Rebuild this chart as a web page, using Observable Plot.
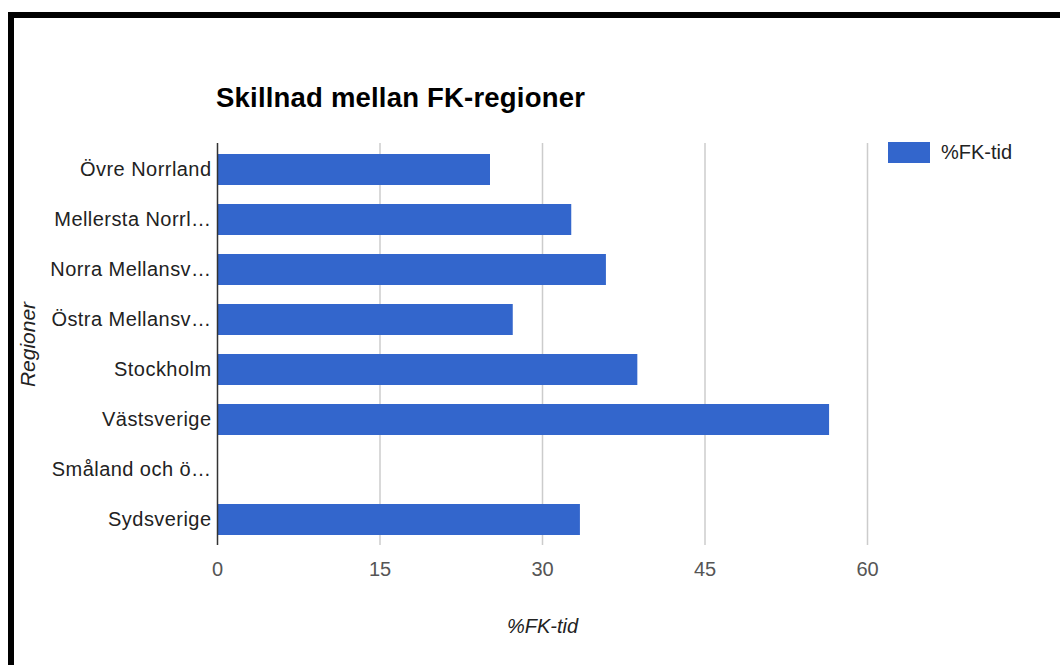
<!DOCTYPE html>
<html>
<head>
<meta charset="utf-8">
<script src="https://cdn.jsdelivr.net/npm/d3@7"></script>
<script src="https://cdn.jsdelivr.net/npm/@observablehq/plot@0.6"></script>
<style>
  html, body { margin: 0; padding: 0; background: #fff; overflow: hidden; }
  body { width: 1060px; height: 665px; position: relative; font-family: Arial, "Liberation Sans", sans-serif; }
  #frame { position: absolute; left: 8px; top: 12px; width: 2000px; height: 2000px;
           border-left: 6px solid #000; border-top: 6px solid #000; }
  #chart { position: absolute; left: 0; top: 0; }
  #title { position: absolute; left: 216px; top: 84px; font-size: 27.5px; font-weight: bold;
           line-height: 1; color: #000; white-space: nowrap; letter-spacing: 0.2px; }
  #legend { position: absolute; left: 888px; top: 142px; display: flex; align-items: center; }
  #legend .swatch { width: 42px; height: 21px; background: #3366cc; }
  #legend .label { margin-left: 11px; font-size: 20px; color: #222; line-height: 21px; }
  g[aria-label="y-axis tick label"] text { letter-spacing: 0.45px; }
</style>
</head>
<body>
<div id="frame"></div>
<div id="chart"></div>
<div id="title">Skillnad mellan FK-regioner</div>
<div id="legend"><div class="swatch"></div><div class="label">%FK-tid</div></div>
<script>
// Regions as labelled on the axis (long names are shortened)
const regions = [
  "Övre Norrland",
  "Mellersta Norrl…",
  "Norra Mellansv…",
  "Östra Mellansv…",
  "Stockholm",
  "Västsverige",
  "Småland och ö…",
  "Sydsverige"
];
// Share of FK time per region (%)
const fkTid = [25.2, 32.7, 35.9, 27.3, 38.8, 56.5, 0, 33.5];
const xTicks = [0, 15, 30, 45, 60];
const xLabel = "%FK-tid";
const yLabel = "Regioner";

const rows = regions.map((region, i) => ({region, value: fkTid[i]}));

const chart = Plot.plot({
  width: 1060,
  height: 665,
  marginLeft: 217,
  marginRight: 193,
  marginTop: 143,
  marginBottom: 120,
  style: {fontFamily: "Arial, 'Liberation Sans', sans-serif", fontSize: "20px", color: "#222", background: "transparent"},
  x: {domain: [0, 60]},
  y: {domain: regions, paddingInner: 0.38, paddingOuter: 0.19},
  marks: [
    Plot.gridX(xTicks.filter(t => t > 0), {stroke: "#cccccc", strokeOpacity: 1, strokeWidth: 1.5}),
    Plot.barX(rows, {x: "value", y: "region", fill: "#3366cc"}),
    Plot.ruleX([0], {stroke: "#333", strokeWidth: 1.5}),
    Plot.axisX({ticks: xTicks, tickSize: 0, tickPadding: 16, label: null, fill: "#555"}),
    Plot.axisY({tickSize: 0, tickPadding: 6, label: null, fill: "#222"}),
    Plot.text([xLabel], {frameAnchor: "bottom", lineAnchor: "middle", textAnchor: "middle", dy: 81, fontStyle: "italic", fill: "#222"}),
    Plot.text([yLabel], {frameAnchor: "left", textAnchor: "middle", lineAnchor: "middle", dx: -189, rotate: -90, fontStyle: "italic", fill: "#222", fontSize: 21})
  ]
});
document.getElementById("chart").appendChild(chart);
</script>
</body>
</html>
